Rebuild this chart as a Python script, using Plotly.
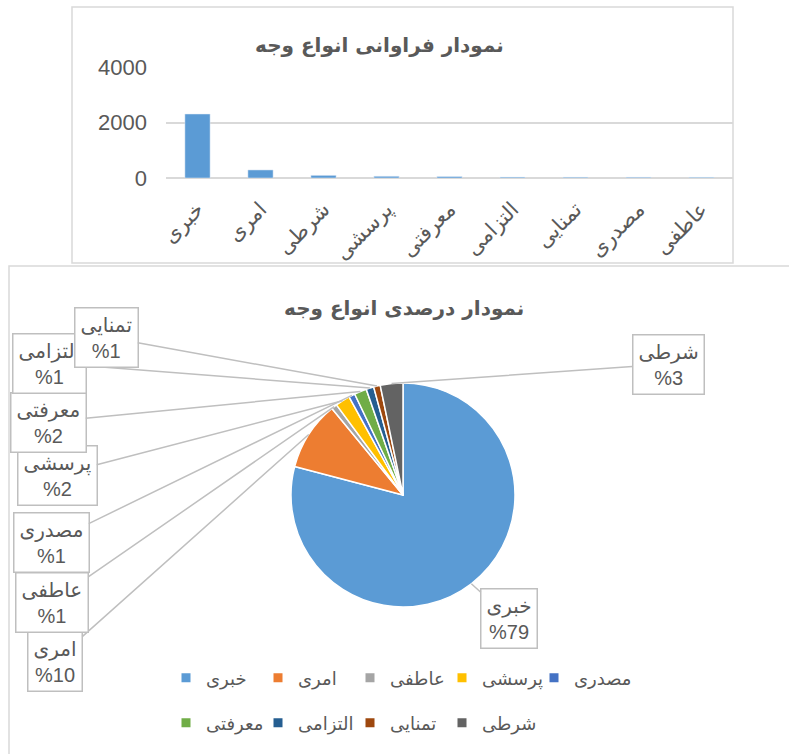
import math
import plotly.graph_objects as go

# ---------------- data ----------------
categories_bar = ['خبری', 'امری', 'شرطی', 'پرسشی', 'معرفتی', 'التزامی', 'تمنایی', 'مصدری', 'عاطفی']
counts = [2306, 290, 95, 62, 52, 32, 28, 26, 24]
y_ticks = [0, 2000, 4000]

pie_order = ['خبری', 'امری', 'عاطفی', 'پرسشی', 'مصدری', 'معرفتی', 'التزامی', 'تمنایی', 'شرطی']
pie_colors = ['#5B9BD5', '#ED7D31', '#A5A5A5', '#FFC000', '#4472C4', '#70AD47', '#255E91', '#9E480E', '#636363']
legend_row1 = ['خبری', 'امری', 'عاطفی', 'پرسشی', 'مصدری']
legend_row2 = ['معرفتی', 'التزامی', 'تمنایی', 'شرطی']

bar_title = 'نمودار فراوانی انواع وجه'
pie_title = 'نمودار درصدی انواع وجه'

value_of = dict(zip(categories_bar, counts))
pie_values = [value_of[c] for c in pie_order]
color_of = dict(zip(pie_order, pie_colors))

# ---------------- layout helpers (pixels -> paper) ----------------
W, H = 789, 754
def px(x):
    return x / W
def py(y):
    return 1 - y / H

TXT = '#595959'
GRID = '#D9D9D9'
FONT = 'Liberation Sans, DejaVu Sans, sans-serif'
BOLD = 'DejaVu Sans, sans-serif'

fig = go.Figure()

# ---------------- bar chart ----------------
fig.add_trace(go.Bar(
    x=categories_bar, y=counts, marker_color='#5B9BD5', width=0.4,
    showlegend=False, xaxis='x', yaxis='y', hoverinfo='x+y'))

# ---------------- pie chart ----------------
cx, cy, R = 403, 495, 112
fig.add_trace(go.Pie(
    labels=pie_order, values=pie_values, sort=False, direction='clockwise', rotation=0,
    marker=dict(colors=pie_colors, line=dict(color='white', width=1.5)),
    textinfo='none', showlegend=False,
    domain=dict(x=[px(cx - R), px(cx + R)], y=[py(cy + R), py(cy - R)])))

# legend proxies (two rows)
for names, lg in ((legend_row1, 'legend'), (legend_row2, 'legend2')):
    for i, n in enumerate(names):
        fig.add_trace(go.Scatter(
            x=[None], y=[None], mode='markers', name=n, legend=lg,
            legendwidth=(90 if i == len(names) - 1 else None),
            marker=dict(symbol='square', size=9, color=color_of[n]),
            xaxis='x2', yaxis='y2', hoverinfo='skip'))

# ---------------- pie callout labels ----------------
label_pos = {
    'خبری': (509, 618),
    'امری': (55, 661),
    'عاطفی': (52, 602),
    'مصدری': (51, 542),
    'پرسشی': (57, 475),
    'معرفتی': (48, 422),
    'التزامی': (49, 363),
    'تمنایی': (106, 337),
    'شرطی': (668, 364),
}
total = sum(pie_values)
cum = 0
anchors = {}
for n, v in zip(pie_order, pie_values):
    theta = math.radians((cum + v / 2) / total * 360)
    anchors[n] = (cx + R * math.sin(theta), cy - R * math.cos(theta), round(v / total * 100))
    cum += v

annotations = []
draw_order = ['خبری', 'امری', 'عاطفی', 'مصدری', 'پرسشی', 'معرفتی', 'التزامی', 'تمنایی', 'شرطی']
for n in draw_order:
    ax0, ay0, pct = anchors[n]
    bx, by = label_pos[n]
    annotations.append(dict(
        x=px(ax0), y=py(ay0), xref='paper', yref='paper',
        ax=bx - ax0, ay=by - ay0, axref='pixel', ayref='pixel',
        text=f'{n}<br>%{pct}', showarrow=True, arrowhead=0, arrowwidth=1.5,
        arrowcolor='#BFBFBF', bordercolor='#BFBFBF', borderwidth=1.5, borderpad=5,
        bgcolor='white', font=dict(family=FONT, size=20, color=TXT), align='center'))

# titles
annotations.append(dict(x=px(379), y=py(45), xref='paper', yref='paper', text=f'<b>{bar_title}</b>',
                        xanchor='center', yanchor='middle', showarrow=False,
                        font=dict(family=BOLD, size=20, color=TXT)))
annotations.append(dict(x=px(404), y=py(308), xref='paper', yref='paper', text=f'<b>{pie_title}</b>',
                        xanchor='center', yanchor='middle', showarrow=False,
                        font=dict(family=BOLD, size=20, color=TXT)))

shapes = [
    dict(type='rect', xref='paper', yref='paper', x0=px(72), x1=px(733), y0=py(263), y1=py(7),
         line=dict(color=GRID, width=1.5), layer='below'),
    dict(type='rect', xref='paper', yref='paper', x0=px(9), x1=px(820), y0=py(790), y1=py(266),
         line=dict(color=GRID, width=1.5), layer='below'),
]

fig.update_layout(
    width=W, height=H, margin=dict(l=0, r=0, t=0, b=0, autoexpand=False),
    paper_bgcolor='white', plot_bgcolor='rgba(0,0,0,0)',
    font=dict(family=FONT, color=TXT),
    xaxis=dict(domain=[px(166), px(733)], type='category', tickangle=-45, showgrid=False,
               showline=False, ticks='', ticklabelstandoff=14, automargin=False,
               tickfont=dict(family=FONT, size=21, color=TXT), fixedrange=True),
    yaxis=dict(domain=[py(178), py(67)], range=[0, 4000], tickvals=y_ticks, showgrid=True,
               gridcolor=GRID, gridwidth=1.5, zeroline=True, zerolinecolor=GRID, zerolinewidth=2,
               showline=False, ticks='', ticklabelstandoff=18, automargin=False,
               tickfont=dict(family=FONT, size=22, color=TXT), fixedrange=True),
    xaxis2=dict(domain=[0, 0.01], visible=False),
    yaxis2=dict(domain=[0, 0.01], visible=False),
    legend=dict(orientation='h', x=px(166), y=py(678), xanchor='left', yanchor='middle',
                entrywidth=47, font=dict(family=FONT, size=18, color=TXT), bgcolor='rgba(0,0,0,0)'),
    legend2=dict(orientation='h', x=px(166), y=py(723), xanchor='left', yanchor='middle',
                 entrywidth=47, font=dict(family=FONT, size=18, color=TXT), bgcolor='rgba(0,0,0,0)'),
    annotations=annotations, shapes=shapes, bargap=0.6,
)

fig.write_html('out.html', config={'displayModeBar': False},
               post_script="document.body.style.margin='0';document.body.style.padding='0';")
